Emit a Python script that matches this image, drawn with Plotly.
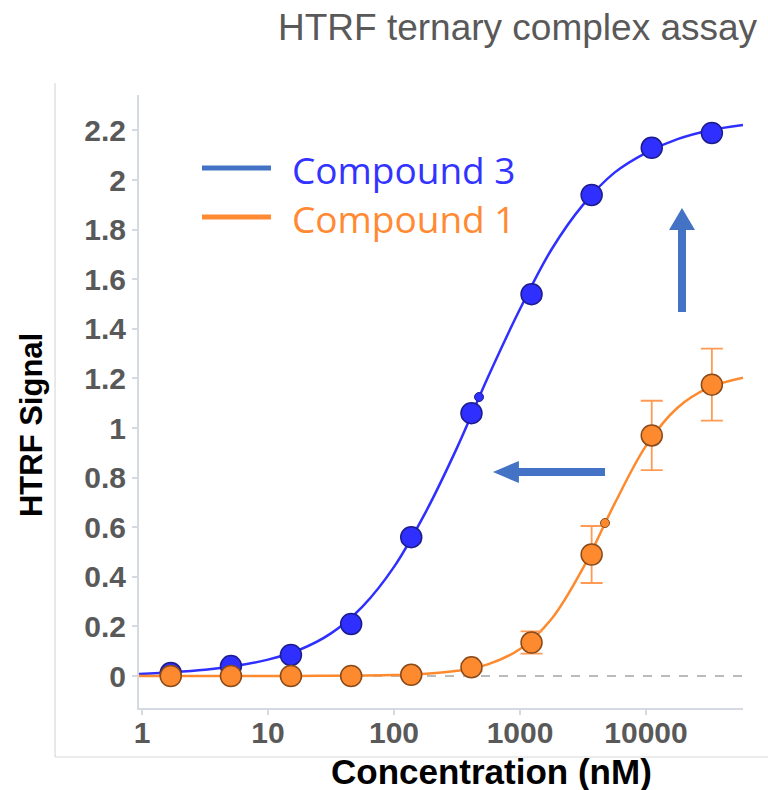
import plotly.graph_objects as go

# ---- data -------------------------------------------------------------
conc = [1.69, 5.08, 15.2, 45.7, 137, 412, 1235, 3704, 11111, 33333]
cmpd3 = [0.012, 0.04, 0.085, 0.21, 0.56, 1.06, 1.54, 1.94, 2.13, 2.19]
cmpd1 = [0.0, 0.0, 0.0, 0.0, 0.005, 0.035, 0.135, 0.49, 0.97, 1.175]
cmpd1_err = [0.01, 0.01, 0.01, 0.01, 0.01, 0.015, 0.045, 0.115, 0.14, 0.145]

# fitted dose-response curves
fit_conc = [0.946, 1.78, 3.16, 5.62, 10, 17.8, 31.6, 56.2, 100, 178, 316, 562,
            1000, 1778, 3162, 5623, 10000, 17783, 31623, 58884]
fit3 = [0.008, 0.015, 0.025, 0.041, 0.066, 0.106, 0.172, 0.28, 0.44, 0.66, 0.92,
        1.21, 1.48, 1.72, 1.90, 2.03, 2.11, 2.165, 2.20, 2.222]
fit1 = [0, 0, 0, 0, 0, 0, 0.001, 0.002, 0.004, 0.009, 0.021, 0.048, 0.109, 0.23,
        0.435, 0.694, 0.928, 1.082, 1.163, 1.203]

# EC50 points on each curve
ec50_3 = (473, 1.125)
ec50_1 = (4730, 0.617)

x_ticks = [1, 10, 100, 1000, 10000]
x_ticktext = ["1", "10", "100", "1000", "10000"]
y_ticks = [0, 0.2, 0.4, 0.6, 0.8, 1.0, 1.2, 1.4, 1.6, 1.8, 2.0, 2.2]
y_ticktext = ["0", "0.2", "0.4", "0.6", "0.8", "1", "1.2", "1.4", "1.6", "1.8", "2", "2.2"]

BLUE = "#2f2fff"
BLUE_EDGE = "#1c1c8f"
ORANGE = "#fd8a2e"
ORANGE_EDGE = "#8a4a1a"
ARROW = "#4472c4"

fig = go.Figure()

fig.add_trace(go.Scatter(x=fit_conc, y=fit3, mode="lines",
                         line=dict(color=BLUE, width=2.5, shape="spline", smoothing=1.0),
                         hoverinfo="skip"))
fig.add_trace(go.Scatter(x=fit_conc, y=fit1, mode="lines",
                         line=dict(color=ORANGE, width=2.5, shape="spline", smoothing=1.0),
                         hoverinfo="skip"))
fig.add_trace(go.Scatter(x=conc, y=cmpd3, mode="markers",
                         marker=dict(size=21, color=BLUE, line=dict(color=BLUE_EDGE, width=1.5))))
fig.add_trace(go.Scatter(x=conc, y=cmpd1, mode="markers",
                         error_y=dict(type="data", array=cmpd1_err, color="#ff9a55",
                                      thickness=1.8, width=11),
                         marker=dict(size=21, color=ORANGE, line=dict(color=ORANGE_EDGE, width=1.5))))
fig.add_trace(go.Scatter(x=[ec50_3[0]], y=[ec50_3[1]], mode="markers",
                         marker=dict(size=9, color=BLUE, line=dict(color=BLUE_EDGE, width=1))))
fig.add_trace(go.Scatter(x=[ec50_1[0]], y=[ec50_1[1]], mode="markers",
                         marker=dict(size=9, color=ORANGE, line=dict(color=ORANGE_EDGE, width=1))))

tick_font = dict(family="Liberation Sans, Arial", size=30, color="#595959", weight="bold")
axis_line = "#d5d9e2"

fig.update_xaxes(type="log", range=[-0.024, 4.77], tickvals=x_ticks, ticktext=x_ticktext,
                 ticks="outside", ticklen=5, tickcolor=axis_line, tickwidth=1.5,
                 showline=True, linecolor=axis_line, linewidth=2,
                 showgrid=False, zeroline=False, tickfont=tick_font,
                 ticklabelstandoff=-8)
fig.update_yaxes(range=[-0.129, 2.343], tickvals=y_ticks, ticktext=y_ticktext,
                 ticks="outside", ticklen=5, tickcolor=axis_line, tickwidth=1.5,
                 showline=True, linecolor=axis_line, linewidth=2,
                 showgrid=False, zeroline=False, tickfont=tick_font)

shapes = []
# zero baseline
shapes.append(dict(type="line", xref="paper", yref="y", x0=0, x1=1, y0=0, y1=0,
                   line=dict(color="#777777", width=1, dash="dash"), layer="below"))
# outer frame of the chart panel
shapes.append(dict(type="line", xref="paper", yref="paper", x0=-0.139, x1=-0.139,
                   y0=1.0196, y1=-0.0799, line=dict(color="#d9d9d9", width=1.2)))
shapes.append(dict(type="line", xref="paper", yref="paper", x0=-0.139, x1=1.05,
                   y0=-0.0799, y1=-0.0799, line=dict(color="#d9d9d9", width=1.2)))
# legend swatches
shapes.append(dict(type="line", xref="paper", yref="paper", x0=0.1043, x1=0.2185,
                   y0=0.881, y1=0.881, line=dict(color="#4472c4", width=5)))
shapes.append(dict(type="line", xref="paper", yref="paper", x0=0.1043, x1=0.2185,
                   y0=0.801, y1=0.801, line=dict(color="#ff8a33", width=5)))
# leftward arrow (potency shift)
shapes.append(dict(type="path", xref="paper", yref="paper", fillcolor=ARROW, line=dict(width=0),
                   path="M 0.7715 0.3915 L 0.629 0.3915 L 0.629 0.403 L 0.586 0.385 "
                        "L 0.629 0.367 L 0.629 0.3785 L 0.7715 0.3785 Z"))
# upward arrow (signal increase)
shapes.append(dict(type="path", xref="paper", yref="paper", fillcolor=ARROW, line=dict(width=0),
                   path="M 0.8924 0.646 L 0.8924 0.7798 L 0.8775 0.7798 L 0.899 0.8157 "
                        "L 0.9205 0.7798 L 0.9056 0.7798 L 0.9056 0.646 Z"))

annotations = [
    dict(text="HTRF ternary complex assay", xref="paper", yref="paper", x=1.028, y=1.11,
         xanchor="right", yanchor="middle", showarrow=False,
         font=dict(family="Liberation Sans, Arial", size=37, color="#595959")),
    dict(text="HTRF Signal", xref="paper", yref="paper", x=-0.177, y=0.4617,
         xanchor="center", yanchor="middle", textangle=-90, showarrow=False,
         font=dict(family="Liberation Sans, Arial", size=31, color="black", weight="bold")),
    dict(text="Concentration (nM)", xref="paper", yref="paper", x=0.5844, y=-0.1044,
         xanchor="center", yanchor="middle", showarrow=False,
         font=dict(family="Liberation Sans, Arial", size=35, color="black", weight="bold")),
    dict(text="Compound 3", xref="paper", yref="paper", x=0.25, y=0.878,
         xanchor="left", yanchor="middle", showarrow=False,
         font=dict(family="Open Sans", size=37, color="#3333ff")),
    dict(text="Compound 1", xref="paper", yref="paper", x=0.25, y=0.798,
         xanchor="left", yanchor="middle", showarrow=False,
         font=dict(family="Open Sans", size=37, color="#ff8a33")),
]

fig.update_layout(width=768, height=790, autosize=False,
                  margin=dict(l=139, r=25, t=95, b=82),
                  paper_bgcolor="white", plot_bgcolor="white",
                  showlegend=False, shapes=shapes, annotations=annotations)

fig.write_html("out.html")
